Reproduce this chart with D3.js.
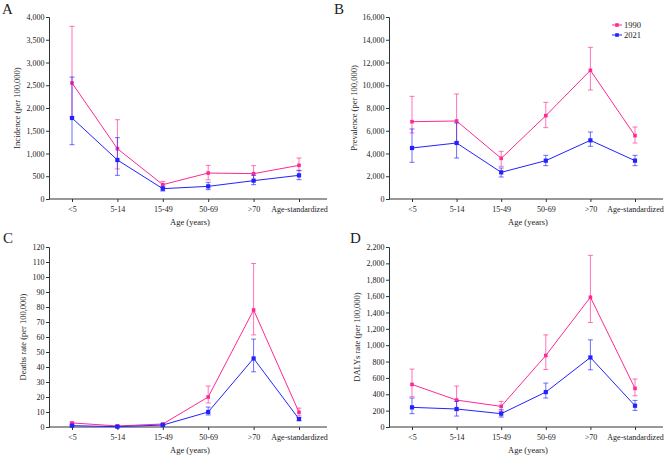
<!DOCTYPE html>
<html>
<head>
<meta charset="utf-8">
<script src="https://cdn.jsdelivr.net/npm/d3@7"></script>
<style>
  body { margin: 0; background: #fff; }
  svg text { font-family: "Liberation Serif", "Times New Roman", serif; fill: #222; }
</style>
</head>
<body>
<svg id="chart" width="669" height="455"></svg>
<script>
const categories = ["<5", "5-14", "15-49", "50-69", ">70", "Age-standardized"];
const years = ["1990", "2021"];

// Incidence (per 100,000)
const incidence1990 = [2550, 1106, 315, 571, 557, 740];
const incidence1990Low = [1800, 659, 250, 420, 400, 620];
const incidence1990High = [3795, 1743, 388, 740, 733, 901];
const incidence2021 = [1780, 857, 227, 278, 403, 520];
const incidence2021Low = [1194, 520, 176, 205, 315, 425];
const incidence2021High = [2681, 1348, 278, 366, 520, 630];

// Prevalence (per 100,000)
const prevalence1990 = [6798, 6857, 3575, 7326, 11311, 5568];
const prevalence1990Low = [5802, 5000, 2872, 6271, 9582, 4923];
const prevalence1990High = [9026, 9231, 4190, 8498, 13333, 6330];
const prevalence2021 = [4484, 4923, 2344, 3370, 5157, 3370];
const prevalence2021Low = [3223, 3604, 1934, 2930, 4630, 2930];
const prevalence2021High = [6154, 6681, 2725, 3839, 5890, 3839];

// Deaths rate (per 100,000)
const deaths1990 = [2.7, 0.7, 2.0, 20, 78, 9.8];
const deaths1990Low = [2.0, 0.2, 1.3, 16, 61.4, 7.5];
const deaths1990High = [3.1, 1.1, 2.4, 27.3, 109, 12.6];
const deaths2021 = [0.9, 0.2, 1.3, 10, 45.7, 5.3];
const deaths2021Low = [0.4, 0.05, 0.9, 8, 36.8, 4.2];
const deaths2021High = [1.3, 0.4, 1.8, 13.3, 58.6, 6.4];

// DALYs rate (per 100,000)
const dalys1990 = [520, 329, 252, 874, 1586, 472];
const dalys1990Low = [370, 200, 191, 703, 1277, 382];
const dalys1990High = [708, 500, 313, 1126, 2098, 586];
const dalys2021 = [240, 220, 163, 427, 850, 260];
const dalys2021Low = [163, 134, 122, 354, 699, 203];
const dalys2021High = [354, 313, 211, 537, 1065, 325];

const colors = { "1990": "#ff2994", "2021": "#2222ff" };

const svg = d3.select("#chart");

function series(vals, lo, hi) {
  return vals.map((v, i) => ({ cat: categories[i], v: v, lo: lo[i], hi: hi[i] }));
}

const panels = [
  { letter: "A", lx: 2, ly: 14, left: 49, right: 327, top: 17, bottom: 199,
    max: 4000, step: 500, title: "Incidence (per 100,000)", tx: 20,
    data: { "1990": series(incidence1990, incidence1990Low, incidence1990High),
            "2021": series(incidence2021, incidence2021Low, incidence2021High) } },
  { letter: "B", lx: 334, ly: 14, left: 389, right: 663, top: 17, bottom: 199,
    max: 16000, step: 2000, title: "Prevalence (per 100,000)", tx: 357,
    data: { "1990": series(prevalence1990, prevalence1990Low, prevalence1990High),
            "2021": series(prevalence2021, prevalence2021Low, prevalence2021High) },
    legend: true },
  { letter: "C", lx: 3, ly: 243, left: 49, right: 327, top: 247, bottom: 427,
    max: 120, step: 10, title: "Deaths rate (per 100,000)", tx: 26,
    data: { "1990": series(deaths1990, deaths1990Low, deaths1990High),
            "2021": series(deaths2021, deaths2021Low, deaths2021High) } },
  { letter: "D", lx: 350, ly: 243, left: 389, right: 663, top: 247, bottom: 427,
    max: 2200, step: 200, title: "DALYs rate (per 100,000)", tx: 360,
    data: { "1990": series(dalys1990, dalys1990Low, dalys1990High),
            "2021": series(dalys2021, dalys2021Low, dalys2021High) } }
];

panels.forEach(p => {
  const g = svg.append("g");

  const x = d3.scalePoint().domain(categories).range([p.left + 23, p.right - 28]);
  const y = d3.scaleLinear().domain([0, p.max]).range([p.bottom, p.top]);

  // panel letter
  g.append("text")
    .attr("x", p.lx).attr("y", p.ly)
    .attr("font-size", 15)
    .text(p.letter);

  // y axis
  const yAxis = g.append("g")
    .attr("transform", `translate(${p.left},0)`)
    .call(d3.axisLeft(y).tickValues(d3.range(0, p.max + 1, p.step))
      .tickFormat(d3.format(",")).tickSize(3).tickPadding(1.5));
  // x axis
  const xAxis = g.append("g")
    .attr("transform", `translate(0,${p.bottom})`)
    .call(d3.axisBottom(x).tickSize(3).tickPadding(4));
  xAxis.select(".domain").attr("d", `M${p.left},0H${p.right}`);

  [yAxis, xAxis].forEach(a => {
    a.selectAll("path, line").attr("stroke", "#333").attr("stroke-width", 1);
    a.selectAll("text").attr("font-size", 8).attr("font-family", "Liberation Serif").attr("fill", "#222");
  });

  // axis titles
  g.append("text")
    .attr("x", (p.left + p.right) / 2 + 2).attr("y", p.bottom + 26)
    .attr("text-anchor", "middle").attr("font-size", 8.5)
    .text("Age (years)");
  g.append("text")
    .attr("transform", `translate(${p.tx},${(p.top + p.bottom) / 2}) rotate(-90)`)
    .attr("text-anchor", "middle").attr("font-size", 8.5)
    .text(p.title);

  const line = d3.line().x(d => x(d.cat)).y(d => y(d.v));

  years.forEach(yr => {
    const c = colors[yr];
    const d = p.data[yr];
    const s = g.append("g");

    // error bars
    const eb = s.selectAll("g.err").data(d).enter().append("g")
      .attr("stroke", c).attr("stroke-opacity", 0.65).attr("stroke-width", 1);
    eb.append("line")
      .attr("x1", e => x(e.cat)).attr("x2", e => x(e.cat))
      .attr("y1", e => y(e.lo)).attr("y2", e => y(e.hi));
    eb.append("line")
      .attr("x1", e => x(e.cat) - 2.5).attr("x2", e => x(e.cat) + 2.5)
      .attr("y1", e => y(e.hi)).attr("y2", e => y(e.hi));
    eb.append("line")
      .attr("x1", e => x(e.cat) - 2.5).attr("x2", e => x(e.cat) + 2.5)
      .attr("y1", e => y(e.lo)).attr("y2", e => y(e.lo));

    s.append("path").datum(d)
      .attr("d", line).attr("fill", "none")
      .attr("stroke", c).attr("stroke-width", 1);

    const sz = yr === "1990" ? 3.6 : 4.2;
    s.selectAll("rect.pt").data(d).enter().append("rect")
      .attr("x", e => x(e.cat) - sz / 2).attr("y", e => y(e.v) - sz / 2)
      .attr("width", sz).attr("height", sz).attr("fill", c);
  });

  if (p.legend) {
    const lg = g.append("g").attr("transform", "translate(612,25)");
    years.forEach((yr, i) => {
      const row = lg.append("g").attr("transform", `translate(0,${i * 10})`);
      row.append("line").attr("x1", 0).attr("x2", 10).attr("y1", 0).attr("y2", 0)
        .attr("stroke", colors[yr]).attr("stroke-width", 1);
      row.append("rect").attr("x", 3.2).attr("y", -1.8).attr("width", 3.6).attr("height", 3.6)
        .attr("fill", colors[yr]);
      row.append("text").attr("x", 12).attr("y", 3).attr("font-size", 8.5).text(yr);
    });
  }
});
</script>
</body>
</html>
